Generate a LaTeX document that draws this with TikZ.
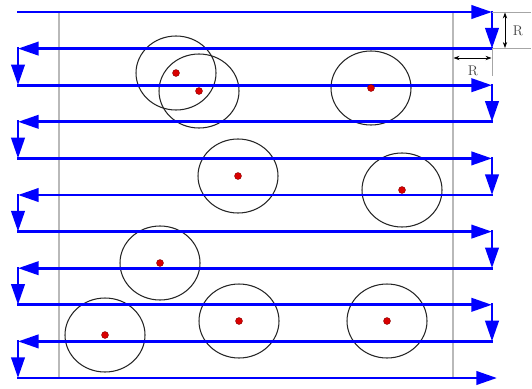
\documentclass[tikz,border=0pt]{standalone}
\usetikzlibrary{arrows.meta,calc}

\tikzset{
  scanline/.style={blue, line width=2.5pt, line cap=rect, -{Triangle[length=0.62cm,width=0.4cm]}},
  guide/.style={gray!55, line width=1.1pt},
  extline/.style={gray!70, line width=0.6pt},
  dimarrow/.style={black, line width=0.6pt, {Stealth[length=1.8mm,width=1.3mm]}-{Stealth[length=1.8mm,width=1.3mm]}},
  zone/.style={black!85, line width=0.9pt},
  spot/.style={fill=red!85!black, draw=red!50!black, line width=0.3pt}
}

\begin{document}
\begin{tikzpicture}[x=0.03cm, y=-0.03cm, >=stealth, line join=round]
    \useasboundingbox (0,0) rectangle (532,388);

    % 扫描行的端点
    \foreach \i in {0,...,10} {
        \pgfmathsetmacro\yy{12+36.6*\i}
        \coordinate (L\i) at (18,\yy);
        \coordinate (R\i) at (492,\yy);
    }

    % 区域边界 (灰色竖线)
    \draw[guide] (59,12) -- (59,378);
    \draw[guide] (453,12) -- (453,378);

    % 圆形区域
    \foreach \cx/\cy in {176/73, 199/91, 371/88, 238/176, 402/190, 160/263, 105/335, 239/321, 387/321} {
        \draw[zone] (\cx,\cy) ellipse [x radius=40, y radius=37];
    }

    % 往返扫描路径
    \foreach \i [evaluate=\i as \j using int(\i+1)] in {0,2,...,8} {
        \draw[scanline] (L\i) -- (R\i);
        \draw[scanline] (R\i) -- (R\j);
    }
    \foreach \i [evaluate=\i as \j using int(\i+1)] in {1,3,...,9} {
        \draw[scanline] (R\i) -- (L\i);
        \draw[scanline] (L\i) -- (L\j);
    }
    \draw[scanline] (L10) -- ($(R10)+(5,0)$);

    % 圆心 (红点)
    \foreach \cx/\cy in {176/73, 199/91, 371/88, 238/176, 402/190, 160/263, 105/335, 239/321, 387/321} {
        \filldraw[spot] (\cx,\cy) circle [radius=3.5];
    }

    % 尺寸标注 R (竖向)
    \draw[extline] (R0) -- (531,12);
    \draw[extline] (R1) -- (531,48.6);
    \draw[dimarrow] (505,12.5) -- (505,48);
    \node[black!75, font=\large] (rv) at (518,31) {R};

    % 尺寸标注 R (横向)
    \draw[extline] (R1) -- (492,76);
    \draw[dimarrow] (453.5,58) -- (491.5,58);
    \node[black!75, font=\large] (rh) at (473,71) {R};
\end{tikzpicture}
\end{document}
